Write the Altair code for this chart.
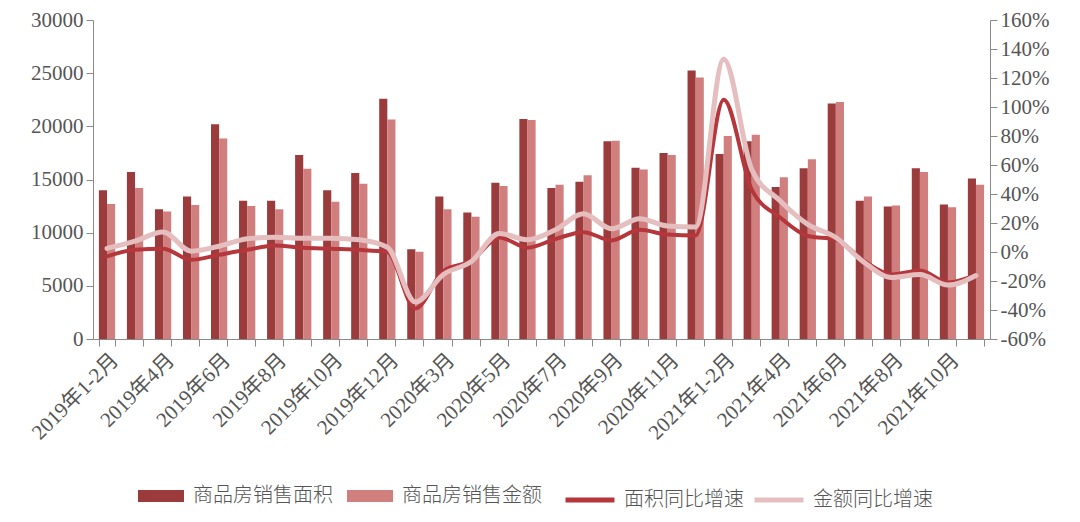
import altair as alt
import pandas as pd

# ---------------- data ----------------
months = (
    ["2019年1-2月"] + [f"2019年{m}月" for m in range(3, 13)]
    + ["2020年1-2月"] + [f"2020年{m}月" for m in range(3, 13)]
    + ["2021年1-2月"] + [f"2021年{m}月" for m in range(3, 12)]
)

# 商品房销售面积 (万平方米)
area = [14000, 15700, 12200, 13400, 20200, 13000, 13000, 17300, 14000, 15600, 22600,
        8450, 13400, 11900, 14700, 20700, 14200, 14800, 18600, 16100, 17500, 25250,
        17400, 18600, 14300, 16050, 22150, 13000, 12450, 16050, 12650, 15100]

# 商品房销售金额 (亿元)
amount = [12700, 14200, 12000, 12600, 18850, 12500, 12200, 16000, 12900, 14600, 20650,
          8200, 12200, 11500, 14400, 20600, 14500, 15400, 18650, 15950, 17300, 24600,
          19100, 19200, 15200, 16900, 22300, 13400, 12550, 15700, 12400, 14500]

# 面积同比增速 (%)
area_yoy = [-3.0, 1.5, 2.2, -5.4, -1.9, 1.5, 4.5, 2.9, 2.2, 1.5, 0.0,
            -39.0, -13.0, -6.0, 10.0, 3.0, 9.0, 13.7, 8.0, 15.3, 12.0, 11.4,
            105.0, 43.0, 24.0, 11.0, 8.5, -6.0, -15.5, -12.8, -21.0, -15.8]

# 金额同比增速 (%)
amount_yoy = [2.5, 7.5, 13.8, 0.6, 4.0, 9.1, 10.2, 9.5, 9.5, 8.4, 3.3,
              -34.5, -15.5, -6.5, 12.8, 8.4, 15.3, 26.4, 16.0, 23.0, 18.0, 17.3,
              133.0, 57.0, 35.5, 19.0, 10.0, -7.0, -17.6, -15.6, -22.8, -16.2]

bar_series = ["商品房销售面积", "商品房销售金额"]
line_series = ["面积同比增速", "金额同比增速"]

left_ticks = [0, 5000, 10000, 15000, 20000, 25000, 30000]
right_ticks = [-60, -40, -20, 0, 20, 40, 60, 80, 100, 120, 140, 160]
shown_labels = months[::2]

# ---------------- tables ----------------
bar_df = pd.DataFrame({
    "month": months * 2,
    "series": [bar_series[0]] * len(months) + [bar_series[1]] * len(months),
    "value": area + amount,
})
line_df = pd.DataFrame({
    "month": months * 2,
    "series": [line_series[0]] * len(months) + [line_series[1]] * len(months),
    "pct": area_yoy + amount_yoy,
})

# ---------------- styles ----------------
DARK = "#9c3b3c"
LIGHT = "#d07f7e"
RED = "#b5373c"
PINK = "#e5bfbf"
AXIS = "#8a8a8a"
TXT = "#555555"
NUM_FONT = "Liberation Serif, Noto Sans CJK SC"
CJK_FONT = "Noto Sans CJK SC"

label_list = "[" + ",".join(f"'{m}'" for m in shown_labels) + "]"

x_axis = alt.Axis(
    title=None, labelAngle=-45, labelAlign="right", labelBaseline="top",
    labelFont=NUM_FONT, labelFontSize=21, labelColor=TXT, labelPadding=3,
    tickBand="extent", tickSize=7, tickColor=AXIS, domainColor=AXIS,
    labelExpr=f"indexof({label_list}, datum.value) >= 0 ? datum.label : ''",
    labelOverlap=False, labelLimit=300, grid=False, orient="bottom",
)
x_scale = alt.Scale(paddingInner=0.42, paddingOuter=0.21)
x_enc = alt.X("month:N", sort=months, scale=x_scale, axis=x_axis)

bars = alt.Chart(bar_df).mark_bar().encode(
    x=x_enc,
    xOffset=alt.XOffset("series:N", sort=bar_series, scale=alt.Scale(paddingInner=0, paddingOuter=0)),
    y=alt.Y("value:Q", scale=alt.Scale(domain=[0, 30000], nice=False, zero=True),
            axis=alt.Axis(title=None, values=left_ticks, grid=False, format="d",
                          labelFont=NUM_FONT, labelFontSize=21, labelColor=TXT,
                          tickSize=7, tickColor=AXIS, domainColor=AXIS, labelPadding=3)),
    color=alt.Color("series:N",
                    scale=alt.Scale(domain=bar_series, range=[DARK, LIGHT]),
                    legend=alt.Legend(
                        title=None, orient="none", legendX=45, legendY=453,
                        direction="horizontal", columns=2,
                        symbolType="M-1,-0.26L1,-0.26L1,0.26L-1,0.26Z",
                        symbolSize=2116, symbolStrokeWidth=0, symbolOpacity=1,
                        labelFont=CJK_FONT, labelFontSize=20, labelFontWeight=300,
                        labelColor=TXT,
                        labelOffset=9, columnPadding=14, labelLimit=300, padding=0)),
)

pct_scale = alt.Scale(domain=[-60, 160], nice=False, zero=False)
y_right = alt.Y("pct:Q", scale=pct_scale,
                axis=alt.Axis(title=None, orient="right", values=right_ticks, grid=False,
                              labelExpr="datum.value + '%'",
                              labelFont=NUM_FONT, labelFontSize=21, labelColor=TXT,
                              tickSize=7, tickColor=AXIS, domainColor=AXIS, labelPadding=3))
y_right_noaxis = alt.Y("pct:Q", scale=pct_scale, axis=None)

stroke_enc = alt.Stroke("series:N",
                        scale=alt.Scale(domain=line_series, range=[RED, PINK]),
                        legend=alt.Legend(
                            title=None, orient="none", legendX=470, legendY=453,
                            direction="horizontal", columns=2,
                            symbolType="stroke", symbolSize=2400, symbolStrokeWidth=5,
                            labelFont=CJK_FONT, labelFontSize=20, labelFontWeight=300,
                            labelColor=TXT,
                            labelOffset=7, columnPadding=0, labelLimit=300, padding=0))

line_red = alt.Chart(line_df).transform_filter(
    alt.datum.series == line_series[0]
).mark_line(interpolate="monotone", strokeWidth=4, strokeCap="round").encode(
    x=x_enc, y=y_right, stroke=stroke_enc)

line_pink = alt.Chart(line_df).transform_filter(
    alt.datum.series == line_series[1]
).mark_line(interpolate="monotone", strokeWidth=5, strokeCap="round").encode(
    x=x_enc, y=y_right_noaxis, stroke=stroke_enc)

chart = alt.layer(bars, line_red, line_pink).resolve_scale(y="independent").properties(
    width=897, height=319,
    background="white",
    padding={"left": 93, "top": 20, "right": 90, "bottom": 183},
    autosize=alt.AutoSizeParams(type="none"),
).configure_view(stroke="transparent", strokeWidth=0)

chart.save("out.html", embed_options={"renderer": "svg", "actions": False})
